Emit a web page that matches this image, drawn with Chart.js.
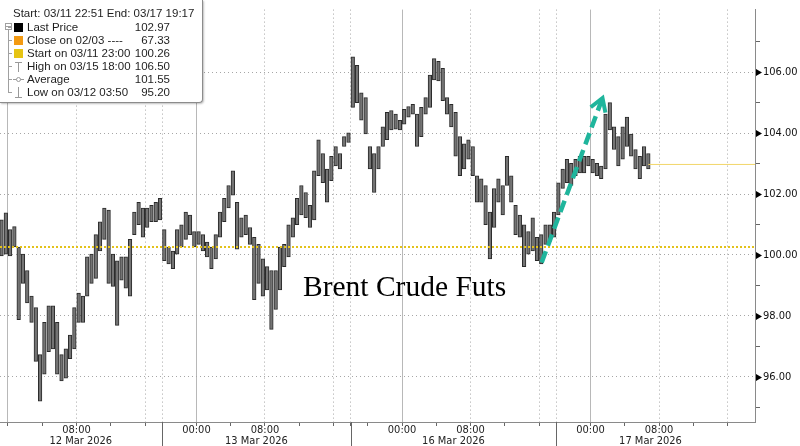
<!DOCTYPE html>
<html>
<head>
<meta charset="utf-8">
<script src="https://cdn.jsdelivr.net/npm/chart.js@4.4.1/dist/chart.umd.min.js"></script>
<style>
  body { margin: 0; background: #fff; }
  #wrap { position: relative; width: 800px; height: 446px; overflow: hidden; }
  #info { position: absolute; left: 0; top: 0; width: 202px; height: 102px; background: #fff;
          border-right: 1px solid #8c8c8c; border-bottom: 1px solid #8c8c8c; border-radius: 0 0 4px 0;
          box-shadow: 1px 1px 2px rgba(0,0,0,0.25);
          font: 11.5px "Liberation Sans", sans-serif; color: #1e1e1e; }
  #info div { position: absolute; }
  .row { left: 0; width: 202px; height: 13px; line-height: 13px; white-space: nowrap; }
  .row .lbl { left: 27px; top: 0; }
  .row .val { right: 32px; top: 0; }
  .sw { left: 14px; top: 2px; width: 9px; height: 9px; }
  .stub { left: 8px; top: 6px; width: 4px; height: 1px; background: #a0a0a0; }
  #label { position: absolute; left: 303px; top: 272px; font: 29.5px "Liberation Serif", serif; color: #000; line-height: 1; white-space: nowrap; }
</style>
</head>
<body>
<div id="wrap">
  <canvas id="chart" width="800" height="446"></canvas>
  <div id="info">
    <div style="left:13px;top:7px;line-height:13px;white-space:nowrap">Start: 03/11 22:51 End: 03/17 19:17</div>
    <div style="left:8px;top:29px;width:1px;height:64px;background:#a0a0a0"></div>
    <div style="left:5px;top:23px;width:5px;height:5px;border:1px solid #a0a0a0;background:#fff"></div>
    <div style="left:6px;top:26px;width:5px;height:1px;background:#a0a0a0"></div>
    <div class="row" style="top:21px"><div class="stub"></div><div class="sw" style="background:#000"></div><div class="lbl">Last Price</div><div class="val">102.97</div></div>
    <div class="row" style="top:34px"><div class="stub"></div><div class="sw" style="background:#f39a12"></div><div class="lbl">Close on 02/03 ----</div><div class="val">67.33</div></div>
    <div class="row" style="top:47px"><div class="stub"></div><div class="sw" style="background:#e6c414"></div><div class="lbl">Start on 03/11 23:00</div><div class="val">100.26</div></div>
    <div class="row" style="top:60px"><div class="stub"></div>
      <div style="left:15px;top:2px;width:7px;height:1px;background:#999"></div>
      <div style="left:18px;top:2px;width:1px;height:10px;background:#999"></div>
      <div class="lbl">High on 03/15 18:00</div><div class="val">106.50</div></div>
    <div class="row" style="top:73px"><div class="stub"></div>
      <div style="left:13px;top:6px;width:11px;height:1px;background:#999"></div>
      <div style="left:16px;top:4px;width:3px;height:3px;border:1px solid #999;border-radius:50%;background:#fff"></div>
      <div class="lbl">Average</div><div class="val">101.55</div></div>
    <div class="row" style="top:86px"><div class="stub"></div>
      <div style="left:18px;top:1px;width:1px;height:10px;background:#999"></div>
      <div style="left:15px;top:11px;width:7px;height:1px;background:#999"></div>
      <div class="lbl">Low on 03/12 03:50</div><div class="val">95.20</div></div>
  </div>
  <div id="label">Brent Crude Futs</div>
</div>
<script>
// 30-minute bars, x measured in trading hours since 03/11 23:00 (session breaks removed)
const barHours = 0.5;
const barHigh = [
  101.15, 101.38, 100.83, 100.93, 100.26, 100.03, 99.49, 98.65, 98.27, 96.73,
  97.79, 98.33, 98.33, 97.79, 96.73, 96.92, 97.37, 98.27, 98.75, 98.65,
  99.94, 100.03, 100.67, 101.09, 101.54, 101.47, 100.03, 99.81, 99.94, 99.94,
  100.51, 101.41, 101.73, 101.54, 101.54, 101.63, 101.73, 101.86, 100.83, 100.26,
  100.13, 100.83, 100.99, 101.41, 101.31, 100.77, 100.77, 100.67, 100.42, 100.26,
  100.67, 101.41, 101.86, 102.28, 102.76, 101.73, 101.22, 101.31, 100.90, 100.58,
  100.35, 99.87, 99.62, 99.49, 99.49, 100.26, 100.35, 100.99, 101.22, 101.86,
  102.28, 102.05, 101.63, 102.76, 103.78, 103.33, 102.82, 103.24, 103.56, 103.33,
  103.88, 104.01, 106.50, 106.22, 105.32, 105.16, 103.56, 103.33, 103.56, 104.20,
  104.68, 104.74, 104.62, 104.42, 104.78, 104.87, 104.94, 104.62, 104.84, 105.16,
  105.90, 106.44, 106.35, 106.12, 105.16, 104.94, 104.68, 103.88, 103.65, 103.78,
  103.56, 102.60, 102.50, 102.28, 101.41, 102.18, 102.50, 102.28, 103.24, 102.60,
  101.63, 101.31, 100.99, 100.77, 101.22, 100.58, 100.67, 100.99, 100.99, 101.41,
  102.37, 102.82, 103.14, 103.01, 103.14, 103.24, 103.24, 103.24, 103.14, 103.01,
  102.92, 104.62, 105.00, 104.20, 103.88, 104.20, 104.52, 103.97, 103.46, 103.24,
  103.56, 103.33
];
const barLow = [
  99.97, 100.03, 99.97, 100.26, 97.88, 99.07, 98.43, 97.79, 96.51, 95.20,
  96.09, 96.83, 96.92, 96.09, 95.87, 95.96, 96.60, 96.92, 97.79, 97.79,
  98.65, 99.07, 99.23, 100.13, 100.51, 99.07, 98.97, 97.69, 99.17, 98.91,
  98.65, 100.67, 100.99, 100.58, 100.90, 101.09, 101.09, 101.15, 99.81, 99.71,
  99.55, 100.03, 100.26, 100.51, 100.67, 100.26, 100.35, 100.13, 99.94, 99.55,
  99.87, 100.58, 101.09, 101.54, 101.96, 100.19, 100.58, 100.67, 100.35, 98.53,
  99.07, 98.65, 98.85, 97.56, 98.21, 98.85, 99.62, 99.94, 100.58, 100.99,
  101.31, 101.22, 100.90, 101.15, 102.60, 102.37, 101.73, 102.44, 102.92, 102.82,
  103.56, 103.69, 104.84, 105.00, 104.42, 103.97, 102.82, 102.05, 102.82, 103.56,
  103.78, 104.10, 104.13, 104.10, 104.29, 104.52, 104.62, 103.56, 103.88, 104.62,
  104.84, 105.74, 105.71, 105.06, 104.62, 104.20, 103.24, 102.60, 102.82, 103.14,
  102.60, 101.73, 101.73, 100.99, 99.87, 100.90, 101.73, 101.31, 102.28, 101.73,
  100.67, 100.58, 99.62, 100.03, 100.13, 99.81, 99.71, 100.35, 100.45, 100.58,
  101.31, 102.18, 102.37, 102.28, 102.60, 102.69, 102.69, 102.92, 102.69, 102.60,
  102.50, 102.82, 104.10, 103.46, 102.92, 103.14, 103.56, 103.24, 102.82, 102.50,
  102.92, 102.82
];
const startPrice = 100.26;
const lastPrice = 102.97;
const arrowFrom = [63.3, 99.75];
const arrowTo = [70.4, 105.15];

const xMin = 0.07, xMax = 88.2;
const yMin = 94.52, yMax = 108.05;
const timeTicks = [1, 5, 9, 13, 17, 19, 23, 27, 31, 35, 39, 41, 43, 47, 51, 55, 59, 63, 65, 69, 73, 77, 81, 85];
const labelTicks = [9, 23, 31, 47, 55, 69, 77];
const labelTexts = ['08:00', '00:00', '08:00', '00:00', '08:00', '00:00', '08:00'];
const midnightTicks = [1, 23, 47, 69];
const dottedTicks = [9, 17, 19, 31, 39, 41, 55, 63, 65, 77, 85];
const sessionBreaks = [19, 41, 65];
const dateTicks = [9.5, 30, 53, 76];
const dateLabels = ['12 Mar 2026', '13 Mar 2026', '16 Mar 2026', '17 Mar 2026'];
const priceTicks = [95, 96, 97, 98, 99, 100, 101, 102, 103, 104, 105, 106, 107];

const axisFont = { family: '"DejaVu Sans Condensed", "Liberation Sans", sans-serif', size: 11 };
const teal = '#1fb59c';

const bars = barHigh.map((h, i) => ({ x: (i + 0.5) * barHours, y: [barLow[i], h] }));
const lastX = (barHigh.length - 0.5) * barHours;

const decor = {
  id: 'decor',
  afterDatasetsDraw(chart) {
    const { ctx, scales } = chart;
    const tx = scales.x.getPixelForValue(arrowTo[0]), ty = scales.y.getPixelForValue(arrowTo[1]);
    const fx = scales.x.getPixelForValue(arrowFrom[0]), fy = scales.y.getPixelForValue(arrowFrom[1]);
    const a = Math.atan2(ty - fy, tx - fx);
    ctx.save();
    ctx.strokeStyle = teal; ctx.lineWidth = 4; ctx.lineJoin = 'miter';
    ctx.beginPath();
    ctx.moveTo(tx - 15 * Math.cos(a - 0.55), ty - 15 * Math.sin(a - 0.55));
    ctx.lineTo(tx, ty);
    ctx.lineTo(tx - 15 * Math.cos(a + 0.55), ty - 15 * Math.sin(a + 0.55));
    ctx.stroke();
    ctx.restore();
  },
  afterDraw(chart) {
    const { ctx, chartArea, scales } = chart;
    ctx.save();
    ctx.strokeStyle = '#666'; ctx.lineWidth = 1;
    sessionBreaks.forEach(t => {
      const px = Math.round(scales.x.getPixelForValue(t)) + 0.5;
      ctx.beginPath(); ctx.moveTo(px, chartArea.bottom); ctx.lineTo(px, chart.height); ctx.stroke();
    });
    ctx.fillStyle = '#000';
    priceTicks.filter(v => v % 2 === 0).forEach(v => {
      const py = Math.round(scales.y.getPixelForValue(v)) + 0.5;
      ctx.beginPath();
      ctx.moveTo(chartArea.right + 1, py - 3.5);
      ctx.lineTo(chartArea.right + 7, py);
      ctx.lineTo(chartArea.right + 1, py + 3.5);
      ctx.closePath(); ctx.fill();
    });
    ctx.restore();
  }
};

new Chart(document.getElementById('chart'), {
  type: 'bar',
  data: {
    datasets: [
      {
        type: 'line', order: 0,
        data: [{ x: arrowFrom[0], y: arrowFrom[1] }, { x: arrowTo[0], y: arrowTo[1] }],
        borderColor: teal, borderWidth: 4.5, borderDash: [12, 6], pointRadius: 0, fill: false
      },
      {
        type: 'line', order: 1,
        data: [{ x: xMin, y: startPrice }, { x: xMax, y: startPrice }],
        borderColor: '#e3c21a', borderWidth: 2, borderDash: [2, 2], pointRadius: 0, fill: false
      },
      {
        type: 'line', order: 1,
        data: [{ x: lastX, y: lastPrice }, { x: xMax, y: lastPrice }],
        borderColor: '#f2d66a', borderWidth: 1, pointRadius: 0, fill: false
      },
      {
        type: 'bar', order: 3,
        data: bars,
        backgroundColor: '#747474', borderColor: '#2a2a2a', borderWidth: 1,
        borderSkipped: false, barThickness: 3.6
      }
    ]
  },
  options: {
    responsive: false,
    animation: false,
    devicePixelRatio: 1,
    layout: { padding: 0 },
    plugins: { legend: { display: false }, tooltip: { enabled: false } },
    scales: {
      x: {
        type: 'linear', position: 'bottom', min: xMin, max: xMax, offset: false,
        afterBuildTicks: a => { a.ticks = timeTicks.map(v => ({ value: v })); },
        afterFit: a => { a.height = 11; },
        ticks: {
          autoSkip: false, maxRotation: 0, padding: -2, color: '#222', font: axisFont,
          callback: v => { const k = labelTicks.indexOf(v); return k < 0 ? '' : labelTexts[k]; }
        },
        grid: {
          offset: false,
          color: c => {
            if (!c.tick) return 'rgba(0,0,0,0)';
            const v = c.tick.value;
            if (midnightTicks.includes(v)) return '#b8b8b8';
            if (dottedTicks.includes(v)) return '#a6a6a6';
            return 'rgba(0,0,0,0)';
          },
          lineWidth: 1, tickLength: 4, tickColor: '#666'
        },
        border: {
          display: true, color: '#8a8a8a',
          dash: c => (c.tick && dottedTicks.includes(c.tick.value)) ? [1, 3] : []
        }
      },
      x2: {
        type: 'linear', position: 'bottom', min: xMin, max: xMax, offset: false,
        afterBuildTicks: a => { a.ticks = dateTicks.map(v => ({ value: v })); },
        afterFit: a => { a.height = 13; },
        ticks: {
          autoSkip: false, maxRotation: 0, padding: 2, color: '#222', font: axisFont,
          callback: v => dateLabels[dateTicks.indexOf(v)]
        },
        grid: { display: false, drawTicks: false, offset: false },
        border: { display: false }
      },
      y: {
        position: 'right', min: yMin, max: yMax,
        afterBuildTicks: a => { a.ticks = priceTicks.map(v => ({ value: v })); },
        afterFit: a => { a.width = 45; },
        ticks: {
          padding: 3, color: '#111', font: axisFont,
          callback: v => v % 2 === 0 ? v.toFixed(2) : ''
        },
        grid: {
          color: c => (c.tick && c.tick.value % 2 === 0) ? '#a6a6a6' : 'rgba(0,0,0,0)',
          tickLength: 5,
          tickColor: c => (c.tick && c.tick.value % 2 !== 0) ? '#666' : 'rgba(0,0,0,0)'
        },
        border: { display: true, color: '#8a8a8a', dash: [1, 3] }
      }
    }
  },
  plugins: [decor]
});
</script>
</body>
</html>
